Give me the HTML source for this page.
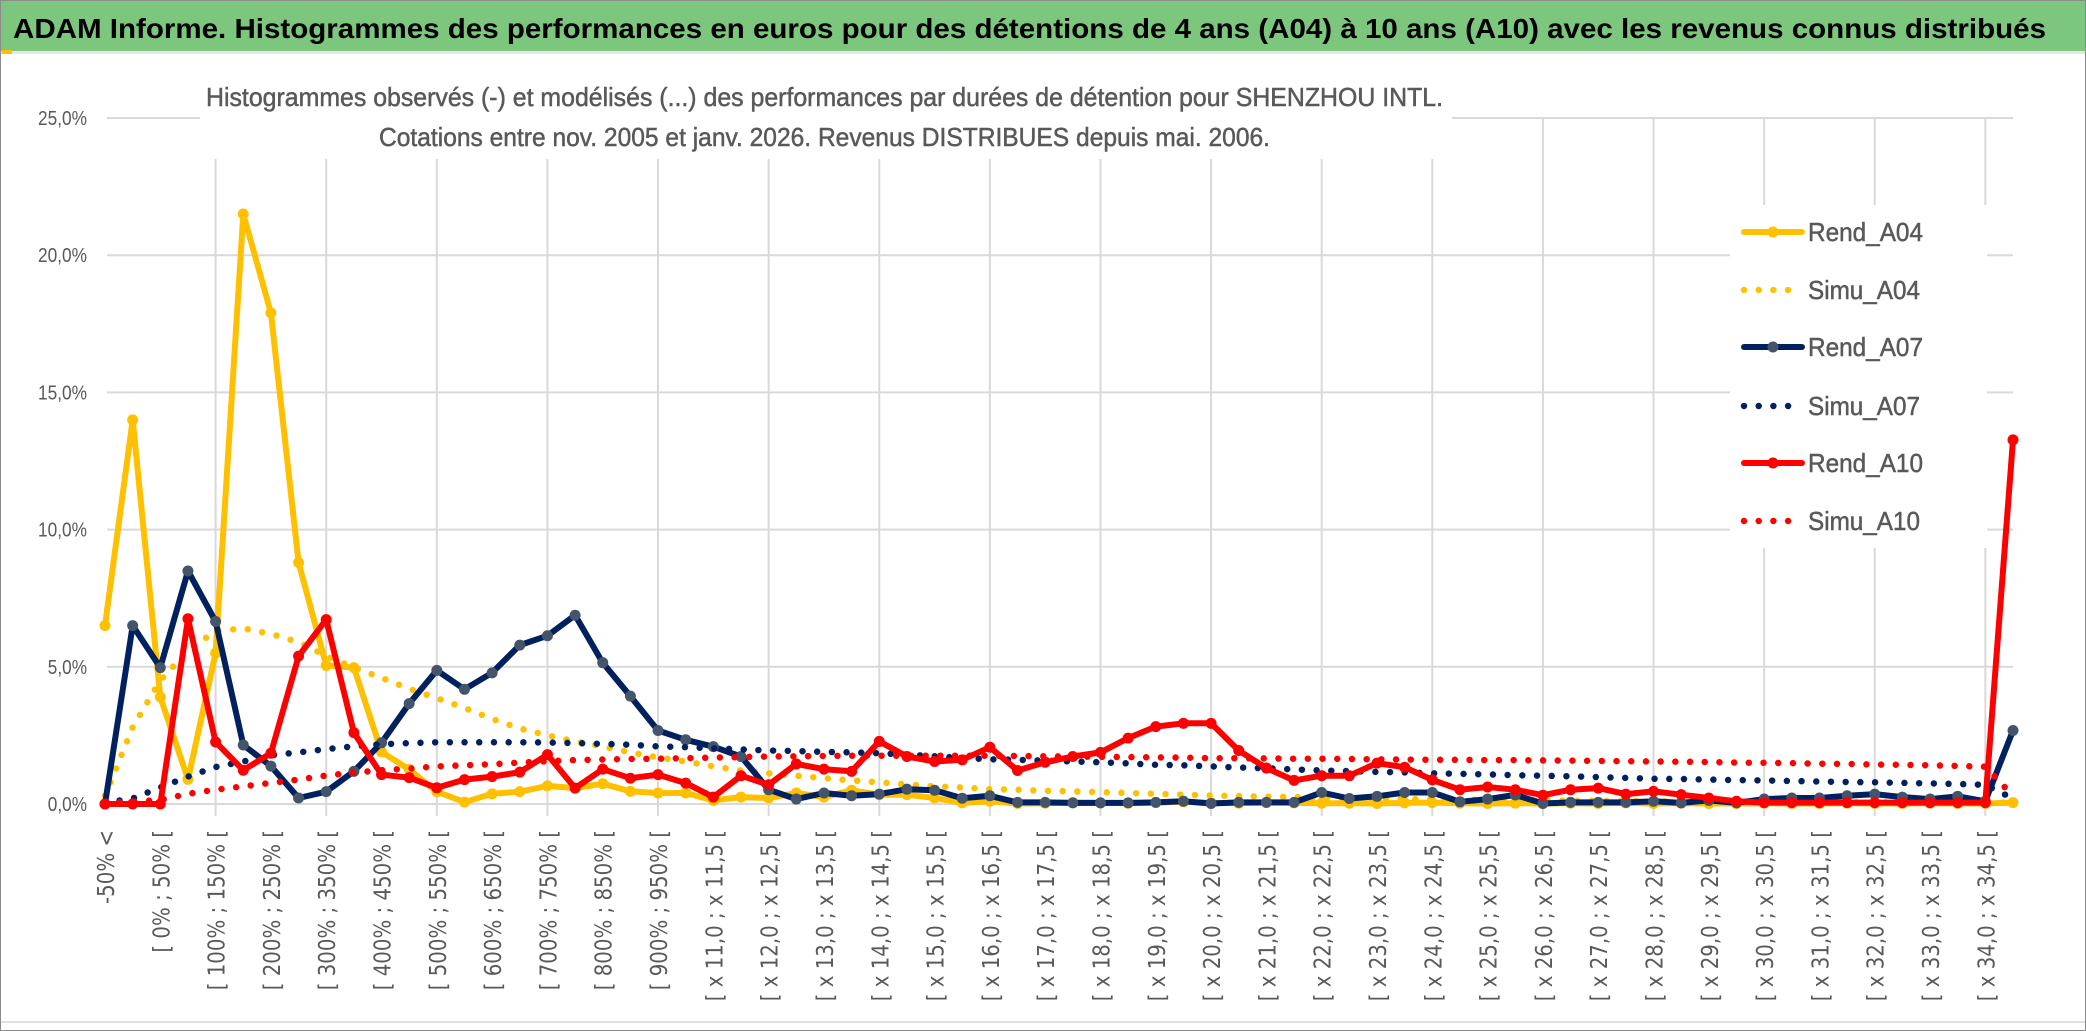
<!DOCTYPE html>
<html><head><meta charset="utf-8"><style>
html,body{margin:0;padding:0;background:#fff}
svg{display:block}
</style></head><body>
<svg id="chart" xmlns="http://www.w3.org/2000/svg" width="2086" height="1031" viewBox="0 0 2086 1031">
<rect x="0" y="0" width="2086" height="1031" fill="#fff" stroke="#8c8c8c" stroke-width="2"/>
<rect x="1" y="1" width="2084" height="50" fill="#7DC67D"/>
<rect x="1" y="51" width="2084" height="3" fill="#e6e6e6"/>
<text x="13" y="38" font-family="Liberation Sans, sans-serif" font-weight="bold" font-size="28" fill="#000" textLength="2033" lengthAdjust="spacingAndGlyphs">ADAM Informe. Histogrammes des performances en euros pour des détentions de 4 ans (A04) à 10 ans (A10) avec les revenus connus distribués</text>
<g id="grid"></g>
<g id="yaxis"></g>
<g id="xaxis"></g>
<rect x="200" y="66" width="1252" height="93" fill="#fff"/>
<text x="206" y="106" font-family="Liberation Sans, sans-serif" font-size="26" fill="#595959" stroke="#595959" stroke-width="0.5" textLength="1237" lengthAdjust="spacingAndGlyphs">Histogrammes observés (-) et modélisés (...) des performances par durées de détention pour SHENZHOU INTL.</text>
<text x="379" y="146" font-family="Liberation Sans, sans-serif" font-size="26" fill="#595959" stroke="#595959" stroke-width="0.5" textLength="891" lengthAdjust="spacingAndGlyphs">Cotations entre nov. 2005 et janv. 2026. Revenus DISTRIBUES depuis mai. 2006.</text>
<g id="series"></g>
<rect x="1730" y="205" width="257" height="343" fill="#fff"/>
<g id="legend"></g>
<rect x="1" y="1021" width="2084" height="2" fill="#e0e0e0"/>
<rect x="2" y="50" width="10" height="4" fill="#FFC000"/>
</svg>
<script>
const tickLabels = ["-50% <","[ 0% ; 50% [","[ 100% ; 150% [","[ 200% ; 250% [","[ 300% ; 350% [","[ 400% ; 450% [","[ 500% ; 550% [","[ 600% ; 650% [","[ 700% ; 750% [","[ 800% ; 850% [","[ 900% ; 950% [","[ x 11,0 ; x 11,5 [","[ x 12,0 ; x 12,5 [","[ x 13,0 ; x 13,5 [","[ x 14,0 ; x 14,5 [","[ x 15,0 ; x 15,5 [","[ x 16,0 ; x 16,5 [","[ x 17,0 ; x 17,5 [","[ x 18,0 ; x 18,5 [","[ x 19,0 ; x 19,5 [","[ x 20,0 ; x 20,5 [","[ x 21,0 ; x 21,5 [","[ x 22,0 ; x 22,5 [","[ x 23,0 ; x 23,5 [","[ x 24,0 ; x 24,5 [","[ x 25,0 ; x 25,5 [","[ x 26,0 ; x 26,5 [","[ x 27,0 ; x 27,5 [","[ x 28,0 ; x 28,5 [","[ x 29,0 ; x 29,5 [","[ x 30,0 ; x 30,5 [","[ x 31,0 ; x 31,5 [","[ x 32,0 ; x 32,5 [","[ x 33,0 ; x 33,5 [","[ x 34,0 ; x 34,5 ["];
const yTicks = [0,5,10,15,20,25];
const yTickLabels = ["0,0%","5,0%","10,0%","15,0%","20,0%","25,0%"];
const seriesNames = ["Rend_A04","Simu_A04","Rend_A07","Simu_A07","Rend_A10","Simu_A10"];
const rendA04 = [6.5,14.0,3.9,0.9,5.5,21.5,17.9,8.8,5.05,4.97,1.9,1.26,0.45,0.07,0.37,0.45,0.66,
0.58,0.74,0.46,0.4,0.4,0.13,0.25,0.22,0.4,0.25,0.5,0.34,0.34,0.22,0.04,0.1,0.02,0.03,
0.05,0.04,0.03,0.05,0.08,0.04,0.03,0.05,0.04,0.03,0.03,0.02,0.04,0.05,0.03,0.02,0.03,0.02,
0.03,0.02,0.04,0.02,0.03,0.02,0.02,0.03,0.02,0.02,0.03,0.02,0.02,0.03,0.02,0.02,0.05];
const simuA04 = [0.3,2.8,4.5,5.6,6.3,6.4,6.2,5.9,5.4,4.97,4.6,4.2,3.86,3.5,3.1,2.75,2.5,
2.28,2.1,1.88,1.7,1.55,1.37,1.22,1.12,1.03,0.94,0.86,0.79,0.71,0.64,0.6,0.54,0.52,0.48,
0.46,0.43,0.4,0.37,0.34,0.31,0.29,0.27,0.25,0.23,0.21,0.2,0.18,0.17,0.16,0.15,0.14,0.13,
0.12,0.11,0.11,0.1,0.09,0.09,0.08,0.08,0.07,0.07,0.06,0.06,0.06,0.05,0.05,0.05,0.05];
const rendA07 = [0,6.5,4.97,8.49,6.65,2.15,1.38,0.22,0.45,1.19,2.23,3.66,4.87,4.18,4.78,5.79,6.13,
6.88,5.15,3.93,2.68,2.34,2.09,1.73,0.52,0.18,0.4,0.3,0.36,0.54,0.5,0.21,0.3,0.06,0.06,
0.04,0.04,0.04,0.06,0.1,0.02,0.06,0.06,0.06,0.42,0.2,0.28,0.42,0.42,0.08,0.18,0.33,0.02,
0.06,0.06,0.06,0.1,0.04,0.13,0.04,0.18,0.22,0.22,0.3,0.36,0.25,0.18,0.28,0.1,2.68];
const simuA07 = [0.05,0.2,0.6,1.0,1.35,1.55,1.78,1.88,2.0,2.1,2.18,2.22,2.25,2.25,2.25,2.25,2.24,
2.22,2.19,2.16,2.1,2.07,2.03,1.99,1.95,1.93,1.9,1.88,1.85,1.8,1.74,1.68,1.63,1.61,1.58,
1.55,1.52,1.48,1.43,1.41,1.37,1.33,1.3,1.26,1.22,1.2,1.17,1.15,1.12,1.1,1.08,1.05,1.03,
1.01,0.98,0.95,0.92,0.91,0.89,0.87,0.86,0.84,0.82,0.8,0.79,0.77,0.75,0.73,0.7,0.2];
const rendA10 = [0,0,0,6.75,2.26,1.23,1.85,5.39,6.72,2.6,1.07,0.96,0.59,0.89,1.0,1.16,1.8,
0.58,1.27,0.94,1.07,0.76,0.25,1.03,0.7,1.46,1.27,1.19,2.28,1.73,1.55,1.61,2.07,1.22,1.52,
1.73,1.88,2.4,2.82,2.94,2.94,1.95,1.31,0.86,1.03,1.03,1.49,1.34,0.88,0.52,0.62,0.52,0.32,
0.52,0.58,0.36,0.46,0.34,0.22,0.1,0.05,0.05,0.05,0.05,0.05,0.05,0.05,0.05,0.05,13.27];
const simuA10 = [0.05,0.08,0.15,0.37,0.52,0.64,0.77,0.89,1.04,1.14,1.23,1.29,1.37,1.41,1.45,1.51,1.56,
1.6,1.62,1.64,1.65,1.67,1.69,1.71,1.73,1.74,1.75,1.76,1.76,1.76,1.76,1.76,1.76,1.75,1.74,
1.73,1.72,1.71,1.7,1.69,1.67,1.67,1.66,1.65,1.65,1.64,1.63,1.62,1.61,1.61,1.6,1.6,1.59,
1.58,1.57,1.56,1.55,1.54,1.53,1.51,1.5,1.49,1.47,1.46,1.44,1.43,1.41,1.39,1.36,0.3];

const NS="http://www.w3.org/2000/svg";
const N = rendA04.length;
const X0=105, X1=2013, Y0=804, PER=27.44;
function xPos(i){return X0 + i*(X1-X0)/(N-1);}
function yPos(v){return Y0 - v*PER;}
function mk(tag,attrs,parent){const e=document.createElementNS(NS,tag);for(const k in attrs)e.setAttribute(k,attrs[k]);parent.appendChild(e);return e;}

const grid=document.getElementById('grid');
yTicks.forEach((t,k)=>{
  const l=mk('line',{x1:107,x2:X1,y1:yPos(t),y2:yPos(t),stroke:'#d9d9d9','stroke-width':2},grid);
  
  
});
for(let i=4;i<N;i+=4){
  const l=mk('line',{x1:xPos(i),x2:xPos(i),y1:yPos(25),y2:Y0+12,stroke:'#d9d9d9','stroke-width':2},grid);
  
  
}
const yaxis=document.getElementById('yaxis');
yTicks.forEach((t,k)=>{
  const tx=mk('text',{x:87,y:yPos(t)+7,'text-anchor':'end','font-family':'Liberation Sans, sans-serif','font-size':20,fill:'#595959',textLength:yTickLabels[k].length*9.8,lengthAdjust:'spacingAndGlyphs'},yaxis);
  tx.textContent=yTickLabels[k];
  
  
});
const xaxis=document.getElementById('xaxis');
tickLabels.forEach((s,k)=>{
  const i=k*2;
  const tx=mk('text',{transform:'translate('+(xPos(i)+2)+',830) rotate(-90)','text-anchor':'end','dominant-baseline':'central','font-family':'DejaVu Sans, sans-serif','font-size':23,fill:'#595959'},xaxis);
  tx.textContent=s;
  
  
  const w=tx.getComputedTextLength();
  if(w>0){tx.setAttribute('textLength',(w*0.86).toFixed(1));tx.setAttribute('lengthAdjust','spacingAndGlyphs');}
});

const seriesData=[rendA04,simuA04,rendA07,simuA07,rendA10,simuA10];
const colors=['#FFC000','#FFC000','#002060','#002060','#FF0000','#FF0000'];
const markerColors=['#FFC000',null,'#44546A',null,'#FF0000',null];
const sg=document.getElementById('series');
seriesData.forEach((arr,s)=>{
  const g=mk('g',{},sg);
  
  
  const pts=arr.map((v,i)=>xPos(i).toFixed(1)+','+yPos(v).toFixed(1)).join(' ');
  const dotted = s%2===1;
  const pl=mk('polyline',{points:pts,fill:'none',stroke:colors[s],'stroke-width':6,'stroke-linejoin':'round','stroke-linecap':'round'},g);
  if(dotted){pl.setAttribute('stroke-dasharray','0 14.7');pl.setAttribute('stroke-width',6.5);}
  
  
  if(!dotted){
    arr.forEach((v,i)=>{
      const c=mk('circle',{cx:xPos(i),cy:yPos(v),r:5.5,fill:markerColors[s]},g);
      
      
    });
  }
});

const lg=document.getElementById('legend');
const rowsY=[232,290,347,406,463,521];
seriesNames.forEach((nm,s)=>{
  const g=mk('g',{},lg);
  
  
  const y=rowsY[s];
  if(s%2===0){
    mk('line',{x1:1744,x2:1802,y1:y,y2:y,stroke:colors[s],'stroke-width':6,'stroke-linecap':'round'},g);
    mk('circle',{cx:1773,cy:y,r:5.5,fill:markerColors[s]},g);
  } else {
    mk('line',{x1:1744,x2:1802,y1:y,y2:y,stroke:colors[s],'stroke-width':6.5,'stroke-linecap':'round','stroke-dasharray':'0 14.7'},g);
  }
  const tx=mk('text',{x:1808,y:y+9,'font-family':'Liberation Sans, sans-serif','font-size':26,fill:'#595959',stroke:'#595959','stroke-width':0.5,textLength:s%2===0?115:112,lengthAdjust:'spacingAndGlyphs'},g);
  tx.textContent=nm;
  
  
});
</script>
</body></html>
